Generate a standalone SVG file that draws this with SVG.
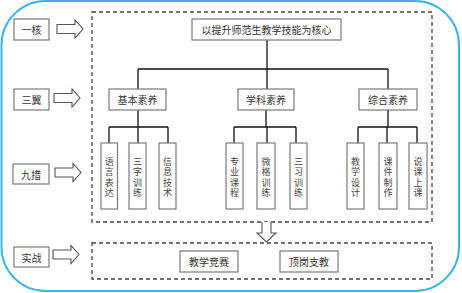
<svg xmlns="http://www.w3.org/2000/svg" width="462" height="293" viewBox="0 0 462 293">
<style>
.box{fill:#fff;stroke:#7a7a7a;stroke-width:1.2}
.txt{font-family:"Noto Sans CJK SC","Noto Sans",sans-serif;font-size:10px;fill:#333;text-anchor:middle;dominant-baseline:central}
.v{font-family:"Liberation Sans","Noto Sans CJK SC",sans-serif;font-size:9px;fill:#444}
.con{fill:none;stroke:#111;stroke-width:1.3}
.dash{fill:none;stroke:#444;stroke-width:1.3;stroke-dasharray:4 3}
.arr{fill:#fff;stroke:#555;stroke-width:1.1}
</style>
<defs>
<path id="ra" d="M0,4.5 H18 V0 L26,9 L18,18 V13.5 H0 Z"/>
</defs>
<rect x="1.5" y="1" width="457.5" height="290" rx="44" ry="44" fill="#fff" stroke="#3cb4e4" stroke-width="2"/>
<rect class="dash" x="92" y="12" width="340" height="210"/>
<rect class="dash" x="92" y="243" width="340" height="36"/>
<g id="connectors">
<path class="con" d="M267,40 V89 M138,69 H388 M138,69 V89 M388,69 V89"/>
<path class="con" d="M138,110 V127 M109,127 H168 M109,127 V143 M138,127 V143 M168,127 V143"/>
<path class="con" d="M266,110 V127 M234,127 H296 M234,127 V143 M267,127 V143 M296,127 V143"/>
<path class="con" d="M388,110 V127 M358,127 H417 M358,127 V143 M387,127 V143 M417,127 V143"/>
<use href="#ra" class="arr" x="57" y="20"/>
<use href="#ra" class="arr" x="54" y="89"/>
<use href="#ra" class="arr" x="55" y="163.5"/>
<use href="#ra" class="arr" x="53" y="245.5"/>
<path class="arr" d="M262,222 V233 H257 L266.5,242 L276,233 H271 V222"/>
</g>
<g id="l1"><rect class="box" x="14" y="19" width="35" height="21"/><text class="txt" x="31.5" y="29.5">一核</text></g>
<g id="l2"><rect class="box" x="14" y="89" width="35" height="21"/><text class="txt" x="31.5" y="99.5">三翼</text></g>
<g id="l3"><rect class="box" x="13" y="164" width="36" height="20"/><text class="txt" x="31" y="174">九措</text></g>
<g id="l4"><rect class="box" x="14" y="247" width="35" height="20"/><text class="txt" x="31.5" y="257">实战</text></g>
<g id="core"><rect class="box" x="192" y="19" width="149" height="21"/><text class="txt" x="266.5" y="29.5">以提升师范生教学技能为核心</text></g>
<g id="w1"><rect class="box" x="109" y="89" width="57" height="21"/><text class="txt" x="137.5" y="99.5">基本素养</text></g>
<g id="w2"><rect class="box" x="238" y="89" width="56" height="21"/><text class="txt" x="266" y="99.5">学科素养</text></g>
<g id="w3"><rect class="box" x="359" y="89" width="58" height="21"/><text class="txt" x="388" y="99.5">综合素养</text></g>
<g id="n1"><rect class="box" x="101" y="143" width="16.5" height="66"/><text class="txt v"><tspan x="109.2" y="161.5">语</tspan><tspan x="109.2" y="172">言</tspan><tspan x="109.2" y="182.5">表</tspan><tspan x="109.2" y="193">达</tspan></text></g>
<g id="n2"><rect class="box" x="129" y="143" width="17" height="66"/><text class="txt v"><tspan x="137.5" y="161.5">三</tspan><tspan x="137.5" y="172">字</tspan><tspan x="137.5" y="182.5">训</tspan><tspan x="137.5" y="193">练</tspan></text></g>
<g id="n3"><rect class="box" x="159" y="143" width="17" height="66"/><text class="txt v"><tspan x="167.5" y="161.5">信</tspan><tspan x="167.5" y="172">息</tspan><tspan x="167.5" y="182.5">技</tspan><tspan x="167.5" y="193">术</tspan></text></g>
<g id="n4"><rect class="box" x="226" y="143" width="17" height="66"/><text class="txt v"><tspan x="234.5" y="161.5">专</tspan><tspan x="234.5" y="172">业</tspan><tspan x="234.5" y="182.5">课</tspan><tspan x="234.5" y="193">程</tspan></text></g>
<g id="n5"><rect class="box" x="257" y="143" width="18" height="66"/><text class="txt v"><tspan x="266" y="161.5">微</tspan><tspan x="266" y="172">格</tspan><tspan x="266" y="182.5">训</tspan><tspan x="266" y="193">练</tspan></text></g>
<g id="n6"><rect class="box" x="290" y="143" width="17" height="66"/><text class="txt v"><tspan x="298.5" y="161.5">三</tspan><tspan x="298.5" y="172">习</tspan><tspan x="298.5" y="182.5">训</tspan><tspan x="298.5" y="193">练</tspan></text></g>
<g id="n7"><rect class="box" x="347" y="143" width="17" height="66"/><text class="txt v"><tspan x="355.5" y="161.5">教</tspan><tspan x="355.5" y="172">学</tspan><tspan x="355.5" y="182.5">设</tspan><tspan x="355.5" y="193">计</tspan></text></g>
<g id="n8"><rect class="box" x="379" y="143" width="18" height="66"/><text class="txt v"><tspan x="388" y="161.5">课</tspan><tspan x="388" y="172">件</tspan><tspan x="388" y="182.5">制</tspan><tspan x="388" y="193">作</tspan></text></g>
<g id="n9"><rect class="box" x="409" y="143" width="18" height="66"/><text class="txt v"><tspan x="418" y="161.5">说</tspan><tspan x="418" y="172">课</tspan><tspan x="418" y="182.5">上</tspan><tspan x="418" y="193">课</tspan></text></g>
<g id="b1"><rect class="box" x="180" y="251" width="58" height="21"/><text class="txt" x="209" y="261.5">教学竞赛</text></g>
<g id="b2"><rect class="box" x="280" y="251" width="58" height="21"/><text class="txt" x="309" y="261.5">顶岗支教</text></g>
</svg>
